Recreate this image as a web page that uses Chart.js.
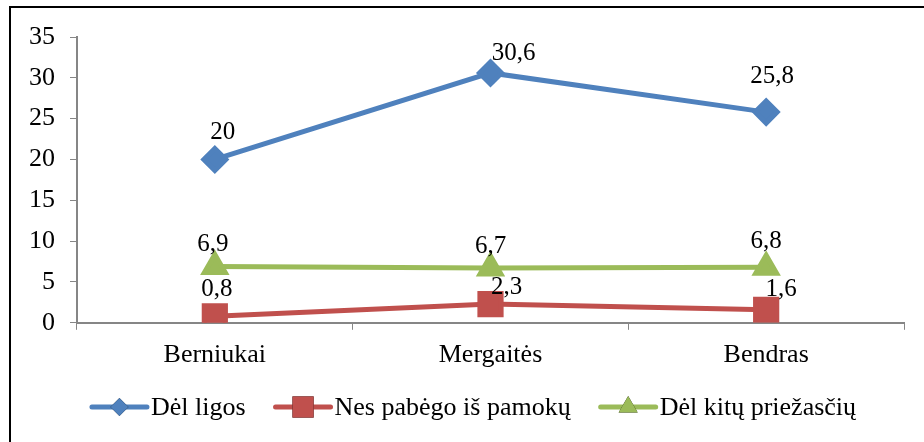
<!DOCTYPE html>
<html>
<head>
<meta charset="utf-8">
<script src="https://cdn.jsdelivr.net/npm/chart.js@4/dist/chart.umd.min.js"></script>
<style>
  body { margin: 0; background: #fff; }
  #wrap { width: 924px; height: 442px; position: relative; }
</style>
</head>
<body>
<div id="wrap"><canvas id="grafikas" width="924" height="442"></canvas></div>
<script>
// duomenys
const kategorijos = ['Berniukai', 'Mergaitės', 'Bendras'];
const delLigos = [20, 30.6, 25.8];
const nesPabego = [0.8, 2.3, 1.6];
const delKitu = [6.9, 6.7, 6.8];

const SRIFTAS = "'Liberation Serif', 'Times New Roman', Times, serif";

// etikečių poslinkiai (px) nuo taško
const poslinkiai = [
  [[8, -27], [23, -19], [6, -36]],
  [[2, -27], [16, -17], [15, -20]],
  [[-2, -22], [0, -22], [0, -26]]
];

const etiketes = {
  id: 'etiketes',
  afterDatasetsDraw(chart) {
    const ctx = chart.ctx;
    ctx.save();
    ctx.font = '25px ' + SRIFTAS;
    ctx.fillStyle = '#000';
    ctx.textAlign = 'center';
    ctx.textBaseline = 'middle';
    chart.data.datasets.forEach((ds, i) => {
      chart.getDatasetMeta(i).data.forEach((pt, j) => {
        const o = poslinkiai[i][j];
        ctx.fillText(String(ds.data[j]).replace('.', ','), pt.x + o[0], pt.y + o[1]);
      });
    });
    ctx.restore();
  }
};

// legenda: linija su žymekliu + tekstas, centruota
const legenda = {
  id: 'legenda',
  afterDraw(chart) {
    const ctx = chart.ctx;
    const y = 407;
    const linija = 55, tarpas = 4, tarpasTarp = 30;
    const spinduliai = [9, 15, 11];
    ctx.save();
    ctx.font = '26px ' + SRIFTAS;
    ctx.textBaseline = 'middle';
    const plociai = chart.data.datasets.map(ds => linija + tarpas + ctx.measureText(ds.label).width);
    const viso = plociai.reduce((a, b) => a + b, 0) + tarpasTarp * (plociai.length - 1);
    let x0 = 474 - viso / 2;
    chart.data.datasets.forEach((ds, i) => {
      ctx.strokeStyle = ds.borderColor;
      ctx.lineWidth = 5;
      ctx.lineCap = 'round';
      ctx.beginPath();
      ctx.moveTo(x0, y);
      ctx.lineTo(x0 + linija, y);
      ctx.stroke();
      Chart.helpers.drawPoint(ctx, {
        pointStyle: ds.pointStyle,
        radius: spinduliai[i],
        borderWidth: 0
      }, x0 + linija / 2, y);
      ctx.fillStyle = ds.backgroundColor;
      ctx.fill();
      ctx.fillStyle = '#000';
      ctx.fillText(ds.label, x0 + linija + tarpas, y + 1);
      x0 += plociai[i] + tarpasTarp;
    });
    ctx.restore();
  }
};

const remelis = {
  id: 'remelis',
  afterDraw(chart) {
    const ctx = chart.ctx;
    ctx.save();
    ctx.strokeStyle = '#000';
    ctx.lineWidth = 2;
    ctx.beginPath();
    ctx.moveTo(10, 442);
    ctx.lineTo(10, 7);
    ctx.lineTo(924, 7);
    ctx.stroke();
    ctx.restore();
  }
};

new Chart(document.getElementById('grafikas'), {
  type: 'line',
  data: {
    labels: kategorijos,
    datasets: [
      {
        label: 'Dėl ligos',
        data: delLigos,
        borderColor: '#4F81BD',
        backgroundColor: '#4F81BD',
        borderWidth: 5,
        pointStyle: 'rectRot',
        pointRadius: 11,
        pointHoverRadius: 11
      },
      {
        label: 'Nes pabėgo iš pamokų',
        data: nesPabego,
        borderColor: '#C0504D',
        backgroundColor: '#C0504D',
        borderWidth: 5,
        pointStyle: 'rect',
        pointRadius: 15,
        pointHoverRadius: 15
      },
      {
        label: 'Dėl kitų priežasčių',
        data: delKitu,
        borderColor: '#9BBB59',
        backgroundColor: '#9BBB59',
        borderWidth: 5,
        pointStyle: 'triangle',
        pointRadius: 12,
        pointHoverRadius: 12
      }
    ]
  },
  options: {
    responsive: false,
    animation: false,
    layout: { padding: { left: 14, right: 20, top: 37, bottom: 61 } },
    plugins: {
      tooltip: { enabled: false },
      legend: { display: false }
    },
    scales: {
      x: {
        offset: true,
        grid: { display: true, drawOnChartArea: false, offset: true, tickLength: 7, color: '#868686' },
        border: { color: '#868686', width: 2 },
        ticks: { padding: 10, color: '#000', font: { family: SRIFTAS, size: 26 } }
      },
      y: {
        min: 0,
        max: 35,
        ticks: { stepSize: 5, padding: 15, color: '#000', font: { family: SRIFTAS, size: 26 } },
        grid: { display: true, drawOnChartArea: false, tickLength: 7, color: '#868686' },
        border: { color: '#868686', width: 2 }
      }
    }
  },
  plugins: [etiketes, legenda, remelis]
});
</script>
</body>
</html>
